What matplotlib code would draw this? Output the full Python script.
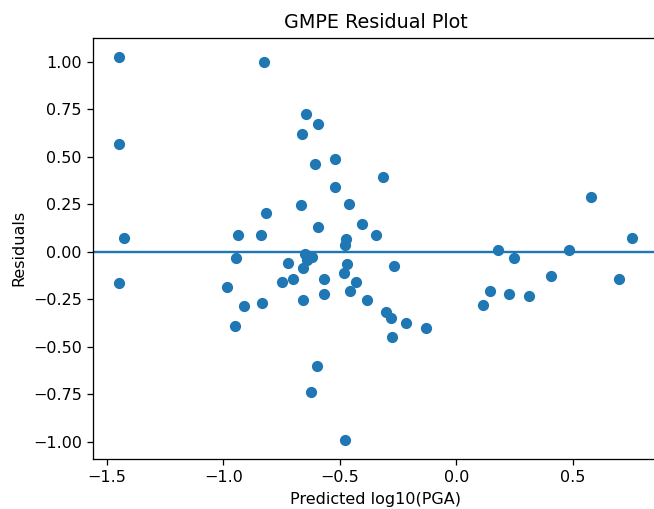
import numpy as np
import matplotlib.pyplot as plt

# predicted log10(PGA) and residuals
predicted = [-1.447, -1.447, -1.428, -1.449, -0.826, -0.935, -0.946, -0.838,
             -0.818, -0.985, -0.912, -0.951, -0.832, -0.646, -0.593, -0.663,
             -0.520, -0.607, -0.314, -0.520, -0.667, -0.460, -0.406, -0.593,
             -0.344, -0.471, -0.477, -0.650, -0.617, -0.642, -0.720, -0.467,
             -0.656, -0.267, -0.480, -0.746, -0.700, -0.567, -0.431, -0.457,
             -0.567, -0.657, -0.383, -0.303, -0.281, -0.217, -0.130, -0.277,
             -0.599, -0.624, -0.477, 0.577, 0.756, 0.180, 0.483, 0.250,
             0.406, 0.699, 0.145, 0.228, 0.313, 0.115]
residuals = [1.028, 0.566, 0.072, -0.164, 0.998, 0.090, -0.035, 0.091,
             0.206, -0.187, -0.283, -0.392, -0.269, 0.724, 0.675, 0.622,
             0.488, 0.462, 0.392, 0.344, 0.248, 0.253, 0.149, 0.133,
             0.086, 0.065, 0.035, -0.011, -0.028, -0.041, -0.058, -0.063,
             -0.084, -0.076, -0.114, -0.160, -0.144, -0.143, -0.157, -0.204,
             -0.222, -0.252, -0.252, -0.315, -0.348, -0.375, -0.403, -0.450,
             -0.600, -0.740, -0.992, 0.288, 0.072, 0.008, 0.008, -0.035,
             -0.125, -0.143, -0.204, -0.222, -0.234, -0.281]

# reference looks like a default figure rendered a bit larger (~115 dpi)
dpi = 115
fig = plt.figure(figsize=(654 / dpi, 509 / dpi), dpi=dpi)
# the reference is cropped: right spine sits just past the image edge
ax = fig.add_axes([93 / 654, 49.7 / 509, 565 / 654, 421.8 / 509])

ax.scatter(predicted, residuals)
ax.axhline(0)

ax.set_xlabel('Predicted log10(PGA)')
ax.set_ylabel('Residuals')
ax.set_title('GMPE Residual Plot')

fig.savefig('out.png', dpi=dpi)
